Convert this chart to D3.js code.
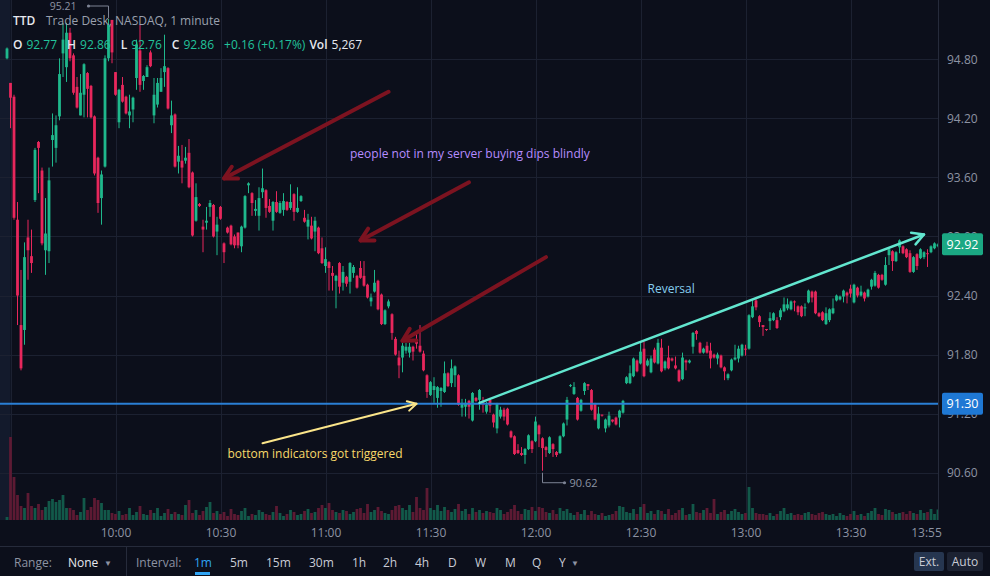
<!DOCTYPE html>
<html>
<head>
<meta charset="utf-8">
<script src="https://cdn.jsdelivr.net/npm/d3@7"></script>
<style>
  html, body { margin: 0; padding: 0; background: #0c0f1b; }
  svg { display: block; font-family: "Open Sans", sans-serif; }
</style>
</head>
<body>
<svg id="chart" width="990" height="576"></svg>
<script>
// first candle is the 9:29 pre-market bar, then one bar per minute up to 13:55
const startTime = "9:29";

const opens = [94.81,
  94.56, 94.42, 93.17, 92.10, 92.05, 92.99, 92.80, 93.37, 93.96, 93.67,
  92.86, 92.85, 93.98, 93.90, 94.22, 94.86, 94.72, 95.07, 94.84, 94.52,
  94.23, 94.44, 94.66, 94.53, 94.22, 93.80, 93.39, 93.71, 94.81, 95.20,
  94.67, 94.16, 94.54, 94.42, 94.23, 94.29, 94.61, 94.89, 94.58, 94.62,
  94.87, 94.23, 94.34, 94.47, 94.67, 94.71, 94.13, 94.24, 93.76, 93.77,
  93.77, 93.85, 93.65, 93.16, 93.33, 93.10, 93.14, 93.30, 93.32, 93.05,
  93.30, 92.93, 93.09, 93.11, 93.00, 93.04, 92.90, 93.09, 93.52, 93.44,
  93.26, 93.21, 93.45, 93.47, 93.31, 93.16, 93.35, 93.24, 93.27, 93.35,
  93.29, 93.43, 93.25, 93.36, 93.19, 93.10, 93.11, 93.05, 93.09, 92.88,
  92.70, 92.74, 92.63, 92.55, 92.73, 92.53, 92.59, 92.54, 92.63, 92.60,
  92.68, 92.60, 92.51, 92.34, 92.44, 92.55, 92.41, 92.11, 92.29, 92.21,
  91.96, 91.77, 91.77, 91.84, 91.82, 91.88, 91.94, 91.89, 91.81, 91.59,
  91.39, 91.44, 91.36, 91.43, 91.42, 91.61, 91.51, 91.59, 91.59, 91.26,
  91.27, 91.33, 91.13, 91.36, 91.34, 91.32, 91.22, 91.34, 91.19, 91.05,
  91.17, 91.24, 91.25, 91.02, 90.97, 90.83, 90.80, 90.78, 90.84, 90.92,
  90.92, 91.08, 90.95, 90.86, 90.80, 90.89, 90.81, 90.80, 90.97, 91.14,
  91.48, 91.40, 91.36, 91.23, 91.43, 91.50, 91.44, 91.30, 91.05, 91.19,
  91.05, 91.08, 91.14, 91.16, 91.16, 91.21, 91.51, 91.51, 91.58, 91.74,
  91.71, 91.86, 91.69, 91.62, 91.85, 91.71, 91.87, 91.66, 91.77, 91.76,
  91.69, 91.64, 91.55, 91.74, 91.72, 91.88, 92.04, 91.92, 91.82, 91.89,
  91.84, 91.80, 91.76, 91.79, 91.67, 91.56, 91.64, 91.75, 91.76, 91.79,
  91.86, 91.86, 92.18, 92.35, 92.19, 92.10, 92.06, 92.14, 92.15, 92.15,
  92.18, 92.24, 92.27, 92.26, 92.34, 92.29, 92.29, 92.27, 92.33, 92.44,
  92.44, 92.22, 92.23, 92.11, 92.15, 92.22, 92.35, 92.36, 92.39, 92.43,
  92.47, 92.33, 92.48, 92.40, 92.43, 92.39, 92.49, 92.50, 92.61, 92.61,
  92.51, 92.81, 92.85, 92.75, 92.89, 92.90, 92.87, 92.83, 92.64, 92.82,
  92.78, 92.79, 92.83, 92.84, 92.88, 92.90];

const highs = [94.92,
  94.56, 94.44, 93.35, 92.66, 92.94, 93.17, 93.07, 93.90, 93.97, 93.70,
  93.39, 93.70, 94.25, 94.23, 94.81, 95.17, 95.17, 95.12, 94.86, 94.62,
  94.65, 94.76, 94.67, 94.54, 94.23, 93.81, 93.67, 94.84, 95.21, 95.20,
  94.67, 94.50, 94.62, 94.43, 94.44, 94.42, 95.00, 95.15, 94.64, 94.74,
  94.89, 94.61, 94.61, 94.71, 95.05, 94.72, 94.38, 94.25, 93.92, 93.93,
  93.91, 93.99, 93.66, 93.54, 93.34, 93.17, 93.30, 93.37, 93.33, 93.20,
  93.31, 92.94, 93.10, 93.12, 93.02, 93.04, 93.11, 93.42, 93.55, 93.45,
  93.37, 93.50, 93.69, 93.48, 93.38, 93.36, 93.46, 93.36, 93.44, 93.36,
  93.53, 93.44, 93.50, 93.42, 93.27, 93.23, 93.20, 93.20, 93.10, 92.99,
  92.89, 92.75, 92.70, 92.61, 92.74, 92.70, 92.60, 92.74, 92.71, 92.61,
  92.75, 92.75, 92.52, 92.42, 92.66, 92.56, 92.42, 92.26, 92.36, 92.22,
  91.98, 91.84, 91.92, 91.92, 91.92, 91.89, 92.02, 92.10, 91.84, 91.60,
  91.53, 91.57, 91.48, 91.47, 91.73, 91.62, 91.75, 91.69, 91.60, 91.35,
  91.35, 91.34, 91.42, 91.37, 91.45, 91.37, 91.32, 91.36, 91.20, 91.31,
  91.27, 91.26, 91.26, 91.03, 90.98, 90.89, 90.86, 90.85, 90.99, 90.93,
  91.17, 91.09, 90.96, 90.87, 90.97, 90.90, 90.82, 90.98, 91.11, 91.37,
  91.50, 91.52, 91.37, 91.35, 91.52, 91.50, 91.45, 91.31, 91.27, 91.19,
  91.15, 91.22, 91.14, 91.17, 91.24, 91.34, 91.58, 91.69, 91.77, 91.75,
  91.92, 91.93, 91.76, 91.79, 91.87, 91.96, 91.96, 91.74, 91.89, 91.77,
  91.78, 91.65, 91.82, 91.75, 91.75, 92.03, 92.05, 91.93, 91.87, 91.93,
  91.92, 91.81, 91.82, 91.80, 91.68, 91.61, 91.76, 91.90, 91.89, 91.91,
  91.90, 92.21, 92.35, 92.38, 92.20, 92.10, 92.06, 92.23, 92.23, 92.18,
  92.27, 92.38, 92.37, 92.35, 92.35, 92.30, 92.30, 92.32, 92.46, 92.45,
  92.45, 92.23, 92.24, 92.28, 92.27, 92.37, 92.41, 92.40, 92.46, 92.44,
  92.51, 92.52, 92.49, 92.50, 92.44, 92.47, 92.57, 92.65, 92.62, 92.62,
  92.79, 92.89, 92.86, 92.85, 92.97, 92.91, 92.88, 92.86, 92.80, 92.83,
  92.88, 92.85, 92.87, 92.91, 92.94, 92.93];

const lows = [94.80,
  94.10, 93.17, 92.10, 91.64, 91.90, 92.56, 92.63, 93.35, 93.44, 92.91,
  92.61, 92.73, 93.71, 93.75, 94.18, 94.62, 94.57, 94.78, 94.44, 94.30,
  94.23, 94.21, 94.21, 94.20, 93.62, 93.24, 93.12, 93.70, 94.78, 94.76,
  94.43, 94.10, 94.36, 94.24, 94.10, 94.16, 94.49, 94.47, 94.49, 94.62,
  94.72, 94.15, 94.31, 94.47, 94.52, 94.29, 94.05, 93.70, 93.64, 93.54,
  93.74, 93.49, 93.00, 93.15, 93.30, 92.84, 93.07, 93.20, 92.99, 92.81,
  93.17, 92.73, 93.03, 92.91, 92.88, 92.88, 92.84, 93.08, 93.44, 93.21,
  93.21, 93.06, 93.39, 93.19, 93.24, 93.06, 93.24, 93.23, 93.21, 93.26,
  93.27, 93.16, 93.24, 93.35, 93.14, 92.97, 92.97, 92.85, 92.82, 92.72,
  92.63, 92.45, 92.45, 92.27, 92.42, 92.45, 92.49, 92.42, 92.58, 92.47,
  92.57, 92.49, 92.37, 92.29, 92.43, 92.25, 92.10, 92.10, 92.27, 91.95,
  91.79, 91.56, 91.62, 91.81, 91.77, 91.74, 91.86, 91.82, 91.63, 91.36,
  91.38, 91.31, 91.26, 91.27, 91.41, 91.47, 91.47, 91.47, 91.28, 91.17,
  91.17, 91.15, 91.12, 91.32, 91.24, 91.21, 91.20, 91.21, 91.06, 91.00,
  91.15, 91.13, 91.08, 90.95, 90.78, 90.79, 90.77, 90.69, 90.83, 90.80,
  90.91, 90.86, 90.62, 90.76, 90.79, 90.76, 90.76, 90.79, 90.96, 91.08,
  91.47, 91.39, 91.13, 91.22, 91.39, 91.44, 91.23, 91.13, 91.04, 91.17,
  91.01, 91.06, 91.11, 91.08, 91.06, 91.20, 91.50, 91.50, 91.57, 91.62,
  91.70, 91.57, 91.68, 91.61, 91.71, 91.70, 91.62, 91.64, 91.65, 91.73,
  91.65, 91.52, 91.54, 91.64, 91.71, 91.81, 91.95, 91.81, 91.81, 91.81,
  91.66, 91.76, 91.70, 91.66, 91.54, 91.54, 91.63, 91.74, 91.72, 91.78,
  91.79, 91.85, 92.17, 92.25, 92.08, 91.99, 92.04, 92.05, 92.14, 92.06,
  92.15, 92.23, 92.25, 92.25, 92.24, 92.20, 92.18, 92.19, 92.32, 92.33,
  92.21, 92.18, 92.14, 92.10, 92.13, 92.21, 92.34, 92.35, 92.33, 92.32,
  92.38, 92.32, 92.38, 92.39, 92.34, 92.38, 92.46, 92.49, 92.47, 92.55,
  92.50, 92.71, 92.65, 92.74, 92.83, 92.82, 92.78, 92.63, 92.63, 92.66,
  92.77, 92.77, 92.69, 92.83, 92.87, 92.89];

const closes = [94.91,
  94.41, 93.19, 92.40, 91.66, 92.79, 92.86, 92.73, 93.88, 93.90, 92.93,
  93.03, 93.57, 94.03, 94.13, 94.65, 95.00, 95.07, 94.81, 94.46, 94.31,
  94.46, 94.75, 94.50, 94.21, 93.64, 93.34, 93.63, 94.81, 95.15, 94.87,
  94.44, 94.49, 94.37, 94.25, 94.27, 94.41, 94.95, 94.54, 94.63, 94.72,
  94.73, 94.44, 94.56, 94.61, 94.73, 94.30, 94.23, 93.71, 93.82, 93.70,
  93.80, 93.50, 93.01, 93.40, 93.31, 93.07, 93.16, 93.34, 93.00, 93.12,
  93.18, 92.84, 93.04, 92.92, 92.91, 92.91, 93.10, 93.41, 93.54, 93.34,
  93.28, 93.39, 93.49, 93.29, 93.25, 93.35, 93.25, 93.34, 93.36, 93.27,
  93.35, 93.25, 93.29, 93.41, 93.15, 93.17, 92.98, 93.16, 92.83, 92.73,
  92.77, 92.68, 92.60, 92.60, 92.49, 92.64, 92.52, 92.73, 92.69, 92.48,
  92.58, 92.50, 92.38, 92.38, 92.53, 92.26, 92.11, 92.25, 92.34, 92.02,
  91.80, 91.69, 91.89, 91.88, 91.88, 91.83, 91.91, 91.83, 91.64, 91.42,
  91.52, 91.48, 91.47, 91.46, 91.61, 91.48, 91.66, 91.68, 91.29, 91.31,
  91.31, 91.27, 91.41, 91.33, 91.44, 91.31, 91.29, 91.28, 91.11, 91.30,
  91.24, 91.17, 91.09, 90.96, 90.79, 90.80, 90.78, 90.84, 90.98, 90.84,
  91.12, 90.99, 90.85, 90.83, 90.96, 90.84, 90.78, 90.97, 91.10, 91.34,
  91.49, 91.47, 91.14, 91.34, 91.51, 91.48, 91.24, 91.14, 91.20, 91.18,
  91.14, 91.18, 91.12, 91.09, 91.23, 91.33, 91.57, 91.61, 91.76, 91.63,
  91.83, 91.58, 91.74, 91.76, 91.72, 91.92, 91.63, 91.73, 91.66, 91.74,
  91.66, 91.53, 91.77, 91.72, 91.74, 92.02, 92.01, 91.82, 91.86, 91.82,
  91.76, 91.77, 91.80, 91.67, 91.63, 91.60, 91.75, 91.77, 91.86, 91.90,
  91.85, 92.20, 92.29, 92.28, 92.13, 92.08, 92.05, 92.17, 92.22, 92.07,
  92.25, 92.31, 92.31, 92.34, 92.33, 92.23, 92.19, 92.28, 92.45, 92.38,
  92.22, 92.19, 92.15, 92.22, 92.26, 92.27, 92.40, 92.39, 92.45, 92.40,
  92.42, 92.51, 92.40, 92.44, 92.37, 92.46, 92.56, 92.63, 92.48, 92.56,
  92.71, 92.87, 92.75, 92.84, 92.96, 92.83, 92.79, 92.64, 92.79, 92.70,
  92.87, 92.84, 92.82, 92.90, 92.93, 92.92];

const volumes = [1500,
  41500, 21500, 12500, 7000, 6000, 13500, 7000, 6000, 8000, 5000,
  6500, 9500, 10500, 9000, 10000, 12500, 6000, 6000, 5000, 2500,
  4000, 11000, 5000, 6500, 11000, 10000, 8500, 5000, 5000, 3500,
  3000, 4500, 2500, 3000, 6000, 2500, 4000, 7000, 3000, 2500,
  5000, 3500, 6000, 2000, 3500, 5500, 3000, 4000, 3000, 2500,
  7500, 10000, 3500, 5000, 2500, 4500, 6500, 9000, 3500, 4500,
  3000, 4000, 2000, 5500, 3000, 2500, 4500, 6000, 2000, 3000,
  2500, 5000, 4000, 3000, 2500, 4000, 7000, 3500, 2000, 3000,
  5000, 4000, 2500, 3000, 4500, 5500, 3500, 4000, 6000, 7500,
  6000, 8500, 5000, 4000, 3500, 5000, 4500, 3000, 4000, 5500,
  6000, 3500, 8000, 4000, 5000, 6500, 4500, 3500, 3000, 5000,
  7000, 7500, 6000, 5000, 7500, 4000, 11500, 6000, 5000, 16000,
  6000, 5000, 7500, 4500, 6500, 5000, 4000, 5500, 8000, 4500,
  5500, 3000, 6000, 4000, 5000, 3500, 4500, 4000, 3500, 6000,
  5000, 3000, 4000, 5500, 7500, 4500, 3000, 5500, 5000, 6500,
  4500, 6500, 6000, 4000, 3500, 5000, 3000, 6000, 4500, 5500,
  3500, 2500, 4000, 3000, 5000, 2500, 4500, 3000, 2500, 3500,
  2000, 2500, 3000, 4500, 7000, 6500, 4000, 3500, 5500, 3000,
  6500, 8000, 3500, 4500, 3000, 5000, 4500, 3000, 5500, 2500,
  3500, 5000, 6000, 2500, 3000, 8000, 4000, 3500, 5000, 6000,
  3500, 10500, 3000, 4000, 5000, 3000, 4500, 5500, 4000, 3000,
  3500, 16500, 6000, 3500, 3000, 3000, 2500, 3500, 2000, 3000,
  4500, 6000, 3000, 3500, 2500, 3000, 2500, 3500, 4000, 3000,
  2500, 3500, 4000, 3000, 2500, 3000, 2000, 3500, 2500, 2000,
  3000, 4500, 2500, 3000, 2000, 3500, 4500, 6000, 3000, 2500,
  5500, 5000, 4000, 3000, 3500, 4000, 3000, 4500, 3500, 3000,
  5000, 3500, 4000, 5500, 3000, 5267];

const priceTicks = [90.60, 91.20, 91.80, 92.40, 93.00, 93.60, 94.20, 94.80];
const timeTicks = ["10:00", "10:30", "11:00", "11:30", "12:00", "12:30", "13:00", "13:30", "13:55"];
const sessionOpen = "9:30";

const lastPrice = 92.92;
const levelPrice = 91.30;

const legendSymbol = "TTD";
const legendName = "Trade Desk, NASDAQ, 1 minute";
const legendOHLC = [["O", "92.77"], ["H", "92.86"], ["L", "92.76"], ["C", "92.86"]];
const legendChange = "+0.16 (+0.17%)";
const legendVol = "5,267";

// drawings on the chart, anchored in time / price
const redArrows = [
  { from: ["11:18", 94.47], to: ["10:31", 93.59] },
  { from: ["11:41", 93.55], to: ["11:10", 92.96] },
  { from: ["12:03", 92.79], to: ["11:22", 91.94] }
];
const reversalArrow = { from: ["11:44", 91.31], to: ["13:51", 93.02] };
const bottomArrow = { from: ["10:42", 90.90], to: ["11:26", 91.30] };
const notes = [
  { text: "people not in my server buying dips blindly", at: ["11:07", 93.80], color: "#b68cff" },
  { text: "Reversal", at: ["12:32", 92.43], color: "#86cdee" },
  { text: "bottom indicators got triggered", at: ["10:32", 90.75], color: "#f7d96a" }
];

const ranges = ["None"];
const intervals = ["1m", "5m", "15m", "30m", "1h", "2h", "4h", "D", "W", "M", "Q", "Y"];

// ---------------------------------------------------------------
const W = 990, H = 576;
const plotRight = 938, plotBottom = 520;
const upColor = "#1fb88c", downColor = "#e8275c";
const gridColor = "#1c2131", textColor = "#8d93a3";

const toMin = (s) => { const [h, m] = s.split(":").map(Number); return h * 60 + m; };

const x = d3.scaleLinear().domain([toMin("10:00"), toMin("10:30")]).range([115.5, 220.5]);
const y = d3.scaleLinear().domain([90.60, 94.80]).range([472.7, 59.3]);
const yVol = d3.scaleLinear().domain([0, 50000]).range([plotBottom, plotBottom - 100]);

const t0 = toMin(startTime);
const candles = opens.map((o, i) => ({
  t: t0 + i, o: o, h: highs[i], l: lows[i], c: closes[i], v: volumes[i]
}));

const svg = d3.select("#chart");

svg.append("rect").attr("width", W).attr("height", H).attr("fill", "#0c0f1b");

svg.append("defs").append("clipPath").attr("id", "plotClip")
  .append("rect").attr("x", 0).attr("y", 0).attr("width", plotRight).attr("height", plotBottom);

const plot = svg.append("g").attr("clip-path", "url(#plotClip)");

// pre-market shading
plot.append("rect")
  .attr("x", 0).attr("y", 0)
  .attr("width", x(toMin(sessionOpen))).attr("height", plotBottom)
  .attr("fill", "#131a2c");

// grid
plot.selectAll(".hgrid").data(priceTicks).join("line")
  .attr("class", "hgrid")
  .attr("x1", 0).attr("x2", plotRight)
  .attr("y1", (d) => Math.round(y(d)) + 0.5).attr("y2", (d) => Math.round(y(d)) + 0.5)
  .attr("stroke", gridColor);

const vTimes = [sessionOpen].concat(timeTicks.slice(0, -1));
plot.selectAll(".vgrid").data(vTimes).join("line")
  .attr("class", "vgrid")
  .attr("x1", (d) => Math.round(x(toMin(d))) + 0.5).attr("x2", (d) => Math.round(x(toMin(d))) + 0.5)
  .attr("y1", 0).attr("y2", plotBottom)
  .attr("stroke", gridColor);

// volume
const barW = 2.8;
plot.selectAll(".vol").data(candles).join("rect")
  .attr("class", "vol")
  .attr("x", (d) => x(d.t) - barW / 2)
  .attr("y", (d) => yVol(d.v))
  .attr("width", barW)
  .attr("height", (d) => plotBottom - yVol(d.v))
  .attr("fill", (d) => (d.c >= d.o ? "#12594a" : "#5d1a33"));

// candles
plot.selectAll(".wick").data(candles).join("line")
  .attr("class", "wick")
  .attr("x1", (d) => x(d.t)).attr("x2", (d) => x(d.t))
  .attr("y1", (d) => y(d.h)).attr("y2", (d) => y(d.l))
  .attr("stroke", (d) => (d.c >= d.o ? upColor : downColor))
  .attr("stroke-width", 1);

plot.selectAll(".body").data(candles).join("rect")
  .attr("class", "body")
  .attr("x", (d) => x(d.t) - barW / 2)
  .attr("y", (d) => y(Math.max(d.o, d.c)))
  .attr("width", barW)
  .attr("height", (d) => Math.max(1, Math.abs(y(d.o) - y(d.c))))
  .attr("fill", (d) => (d.c >= d.o ? upColor : downColor));

// horizontal level line
plot.append("line")
  .attr("x1", 0).attr("x2", plotRight)
  .attr("y1", y(levelPrice)).attr("y2", y(levelPrice))
  .attr("stroke", "#2a7fd5").attr("stroke-width", 2);

// drawings
function drawArrow(a, color, width, head, spread) {
  const x1 = x(toMin(a.from[0])), y1 = y(a.from[1]);
  const x2 = x(toMin(a.to[0])), y2 = y(a.to[1]);
  const ang = Math.atan2(y2 - y1, x2 - x1);
  const g = plot.append("g")
    .attr("stroke", color).attr("stroke-width", width)
    .attr("stroke-linecap", "round").attr("stroke-linejoin", "round").attr("fill", "none");
  g.append("line").attr("x1", x1).attr("y1", y1).attr("x2", x2).attr("y2", y2);
  const a1 = [x2 - head * Math.cos(ang - spread), y2 - head * Math.sin(ang - spread)];
  const a2 = [x2 - head * Math.cos(ang + spread), y2 - head * Math.sin(ang + spread)];
  g.append("path").attr("d", `M${a1[0]},${a1[1]}L${x2},${y2}L${a2[0]},${a2[1]}`);
}

redArrows.forEach((a) => drawArrow(a, "#7c1320", 4, 14, 0.5));
drawArrow(reversalArrow, "#62e6cf", 2.5, 13, 0.5);
drawArrow(bottomArrow, "#fbe58a", 2, 10, 0.5);

plot.selectAll(".note").data(notes).join("text")
  .attr("class", "note")
  .attr("x", (d) => x(toMin(d.at[0])))
  .attr("y", (d) => y(d.at[1]))
  .attr("fill", (d) => d.color)
  .attr("font-size", 12)
  .text((d) => d.text);

// day high / low markers
const hiIdx = d3.maxIndex(candles, (d) => d.h);
const loIdx = d3.minIndex(candles, (d) => d.l);
const hx = x(candles[hiIdx].t), hy = y(candles[hiIdx].h);
const lx = x(candles[loIdx].t), ly = y(candles[loIdx].l);

const marks = svg.append("g").attr("stroke", "#7d8394").attr("fill", "none");
marks.append("path").attr("d", `M${hx},${hy - 1}V6H${hx - 20}`);
marks.append("path").attr("d", `M${lx},${ly + 2}V${ly + 12}H${lx + 22}`);
svg.append("circle").attr("cx", hx - 20).attr("cy", 6).attr("r", 1.6).attr("fill", "#7d8394");
svg.append("circle").attr("cx", lx + 22).attr("cy", ly + 12).attr("r", 1.6).attr("fill", "#7d8394");
svg.append("text").attr("x", hx - 32).attr("y", 10).attr("text-anchor", "end")
  .attr("font-size", 10.5).attr("fill", textColor).text(candles[hiIdx].h.toFixed(2));
svg.append("text").attr("x", lx + 27).attr("y", ly + 16)
  .attr("font-size", 11).attr("fill", textColor).text(candles[loIdx].l.toFixed(2));

// legend
svg.append("text").attr("x", 13).attr("y", 25).attr("font-size", 12).attr("font-weight", 600)
  .attr("fill", "#e6e8ee").text(legendSymbol);
svg.append("text").attr("x", 46).attr("y", 25).attr("font-size", 12)
  .attr("fill", "#9aa0ae").text(legendName);

const legend = svg.append("g").attr("font-size", 12);
let cx = 13;
function put(txt, color, gap, weight) {
  const t = legend.append("text").attr("x", cx).attr("y", 49).attr("fill", color)
    .attr("font-weight", weight || 400).text(txt);
  cx += t.node().getComputedTextLength() + gap;
}
legendOHLC.forEach(([k, v]) => {
  put(k, "#e6e8ee", 4, 600);
  put(v, "#22c39b", 10);
});
put(legendChange, "#22c39b", 4);
put("Vol", "#e6e8ee", 4, 600);
put(legendVol, "#e6e8ee", 0);

// right price axis
svg.append("line").attr("x1", plotRight + 0.5).attr("x2", plotRight + 0.5)
  .attr("y1", 0).attr("y2", plotBottom).attr("stroke", "#262b3b");

const yAxis = svg.append("g").attr("transform", `translate(${plotRight},0)`)
  .call(d3.axisRight(y).tickValues(priceTicks).tickFormat(d3.format(".2f")).tickSize(0).tickPadding(9));
yAxis.select(".domain").remove();
yAxis.selectAll("text").attr("fill", textColor).attr("font-size", 12)
  .attr("font-family", "Open Sans, sans-serif");

function priceTag(price, color) {
  const yy = y(price);
  svg.append("rect").attr("x", 942).attr("y", yy - 11).attr("width", 41).attr("height", 22)
    .attr("rx", 2).attr("fill", color);
  svg.append("text").attr("x", 962.5).attr("y", yy + 4.5).attr("text-anchor", "middle")
    .attr("font-size", 12.5).attr("fill", "#ffffff").text(price.toFixed(2));
}
priceTag(lastPrice, "#1ba883");
priceTag(levelPrice, "#1f78d4");

// bottom time axis
const xAxis = svg.append("g").attr("transform", `translate(0,${plotBottom})`)
  .call(d3.axisBottom(x).tickValues(timeTicks.map(toMin))
    .tickFormat((d, i) => timeTicks[i]).tickSize(0).tickPadding(8));
xAxis.select(".domain").remove();
xAxis.selectAll("text").attr("fill", textColor).attr("font-size", 12)
  .attr("font-family", "Open Sans, sans-serif");
xAxis.selectAll(".tick").filter((d, i) => i === timeTicks.length - 1)
  .select("text").attr("dx", -12);

// toolbar
svg.append("line").attr("x1", 0).attr("x2", W).attr("y1", 546.5).attr("y2", 546.5).attr("stroke", "#262b3b");
svg.append("line").attr("x1", 126.5).attr("x2", 126.5).attr("y1", 547).attr("y2", H).attr("stroke", "#262b3b");
svg.append("rect").attr("x", 914).attr("y", 552).attr("width", 30).attr("height", 19).attr("rx", 2).attr("fill", "#263650");
svg.append("rect").attr("x", 947).attr("y", 552).attr("width", 36).attr("height", 19).attr("rx", 2).attr("fill", "#1c2232");
svg.append("rect").attr("x", 195).attr("y", 572).attr("width", 15).attr("height", 3).attr("fill", "#2fa4f4");

const tb = svg.append("g").attr("font-size", 12);
tb.append("text").attr("x", 14).attr("y", 567).attr("fill", textColor).text("Range:");
tb.append("text").attr("x", 68).attr("y", 567).attr("fill", "#e6e8ee").text(ranges[0]);
tb.append("text").attr("x", 104).attr("y", 566).attr("fill", textColor).attr("font-size", 8).text("▼");
tb.append("text").attr("x", 136).attr("y", 567).attr("fill", textColor).text("Interval:");

const intervalX = [194, 230, 266, 309, 352, 383, 415, 448, 475, 505, 532, 559];
intervals.forEach((iv, i) => {
  tb.append("text").attr("x", intervalX[i]).attr("y", 567)
    .attr("fill", i === 0 ? "#2fa4f4" : "#c9ccd6").text(iv);
});
tb.append("text").attr("x", 571).attr("y", 566).attr("fill", textColor).attr("font-size", 8).text("▼");
tb.append("text").attr("x", 929).attr("y", 566).attr("text-anchor", "middle").attr("fill", "#c9ccd6").text("Ext.");
tb.append("text").attr("x", 965).attr("y", 566).attr("text-anchor", "middle").attr("fill", "#c9ccd6").text("Auto");
</script>
</body>
</html>
